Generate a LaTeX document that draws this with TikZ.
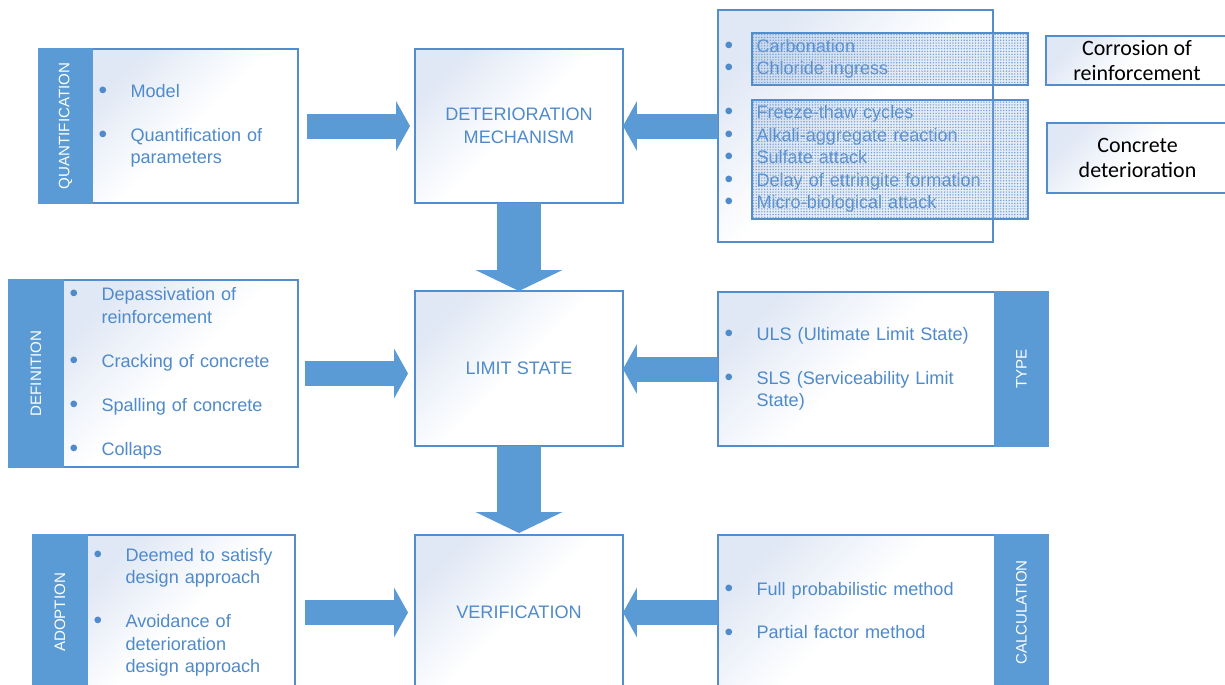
\documentclass[tikz,border=0pt]{standalone}
\usepackage{fontspec}
\setmainfont{Liberation Sans}
\newfontfamily\calibri{Carlito}
\usetikzlibrary{arrows.meta,positioning,patterns.meta}

\definecolor{tabblue}{RGB}{91,155,213}
\definecolor{edgeblue}{RGB}{84,141,205}
\definecolor{txtblue}{RGB}{79,138,203}
\definecolor{boxfill}{RGB}{224,232,245}
\definecolor{dotblue}{RGB}{120,160,210}

\newcommand{\itm}{\raisebox{-0.6pt}{\scalebox{1.35}{\textbullet}}}
\newcommand{\gap}{\\[0.43cm]}
\newcommand{\lst}[1]{\begin{tabular}{@{}p{0.64cm}@{}l@{}}#1\end{tabular}}

\begin{document}
\begin{tikzpicture}[x=0.02cm, y=-0.02cm,
  box/.style={draw=edgeblue, line width=0.8pt, top color=boxfill, bottom color=white, middle color=white, shading angle=45, outer sep=0pt, inner sep=0pt, text=txtblue, font=\fontsize{10.3}{12.8}\selectfont},
  listbox/.style={box, align=left, inner xsep=0.13cm},
  midbox/.style={box, align=center, minimum width=4.16cm, minimum height=3.1cm},
  tab/.style={fill=tabblue, draw=tabblue, line width=0.8pt, minimum width=1.06cm, inner sep=0pt, outer sep=0pt, text=white, font=\fontsize{8.6}{10}\selectfont},
  hatch/.style={draw=edgeblue, line width=0.8pt, preaction={fill=dotblue, fill opacity=0.2}, pattern={Dots[distance=1.6pt, radius=0.45pt]}, pattern color=dotblue, minimum width=5.52cm, inner sep=0pt},
  sidebox/.style={box, text=black, align=center, font=\calibri\fontsize{12.5}{14.2}\selectfont},
  fat/.style={draw=tabblue, line width=0.5cm, -{Triangle[length=0.28cm, width=1.0cm, line width=0pt]}},
  vfat/.style={draw=tabblue, line width=0.9cm, -{Triangle[length=0.42cm, width=1.74cm, line width=0pt]}}]

  \useasboundingbox (0,0) rectangle (1225,684);
  \clip (0,0) rectangle (1225,684);

  \node[listbox, minimum width=4.12cm, minimum height=3.08cm, text width=3.86cm] (quant) at (195,126)
    {\lst{\itm & Model\gap \itm & Quantification of\\ & parameters}};
  \node[tab, minimum height=3.08cm, left=0pt of quant] (quanttab) {\rotatebox{90}{QUANTIFICATION}};

  \node[listbox, minimum width=4.70cm, minimum height=3.74cm, text width=4.44cm] (def) at (180.5,373.5)
    {\lst{\itm & Depassivation of\\ & reinforcement\gap \itm & Cracking of concrete\gap \itm & Spalling of concrete\gap \itm & Collaps}};
  \node[tab, minimum width=1.08cm, minimum height=3.74cm, left=0pt of def] (deftab) {\rotatebox{90}{DEFINITION}};

  \node[listbox, minimum width=4.16cm, minimum height=3.1cm, text width=3.90cm] (adopt) at (191,612.5)
    {\lst{\itm & Deemed to satisfy\\ & design approach\gap \itm & Avoidance of\\ & deterioration\\ & design approach}};
  \node[tab, minimum width=1.08cm, minimum height=3.1cm, left=0pt of adopt] (adopttab) {\rotatebox{90}{ADOPTION}};

  \node[midbox, minimum height=3.08cm] (dm) at (519,126) {DETERIORATION\\MECHANISM};
  \node[midbox] (ls) at (519,368.5) {LIMIT STATE};
  \node[midbox] (ver) at (519,612.5) {VERIFICATION};

  \node[listbox, minimum width=5.5cm, minimum height=4.64cm, text width=5.24cm] (mech) at (855.5,126)
    {\lst{\itm & Carbonation\\ \itm & Chloride ingress\gap \itm & Freeze-thaw cycles\\ \itm & Alkali-aggregate reaction\\ \itm & Sulfate attack\\ \itm & Delay of ettringite formation\\ \itm & Micro-biological attack}};
  \node[hatch, minimum height=1.04cm] (hatch1) at (890,59) {};
  \node[hatch, minimum height=2.38cm] (hatch2) at (890,159.5) {};

  \node[sidebox, minimum width=3.64cm, minimum height=0.98cm] (corr) at (1137,60.5) {Corrosion of\\reinforcement};
  \node[sidebox, minimum width=3.62cm, minimum height=1.4cm] (conc) at (1137.5,158) {Concrete\\deterioration};

  \node[listbox, minimum width=5.54cm, minimum height=3.08cm, text width=5.28cm] (typebox) at (856.5,369)
    {\lst{\itm & ULS (Ultimate Limit State)\gap \itm & SLS (Serviceability Limit\\ & State)}};
  \node[tab, minimum height=3.08cm, right=0pt of typebox] (typetab) {\rotatebox{90}{TYPE}};

  \node[listbox, minimum width=5.54cm, minimum height=3.1cm, text width=5.28cm] (calcbox) at (856.5,612.5)
    {\lst{\itm & Full probabilistic method\gap \itm & Partial factor method}};
  \node[tab, minimum height=3.1cm, right=0pt of calcbox] (calctab) {\rotatebox{90}{CALCULATION}};

  \draw[fat, shorten <=0.18cm, shorten >=0.1cm] (quant.east) -- (dm.west);
  \draw[fat] (mech.west) -- (dm.east);
  \draw[vfat] (dm.south) -- (ls.north);
  \draw[fat, shorten <=0.14cm, shorten >=0.14cm] (def.east) -- (def.east -| ls.west);
  \draw[fat] (typebox.west) -- (typebox.west -| ls.east);
  \draw[vfat, shorten >=0.04cm] (ls.south) -- (ver.north);
  \draw[fat, shorten <=0.2cm, shorten >=0.14cm] (adopt.east) -- (adopt.east -| ver.west);
  \draw[fat] (calcbox.west) -- (calcbox.west -| ver.east);
\end{tikzpicture}
\end{document}
